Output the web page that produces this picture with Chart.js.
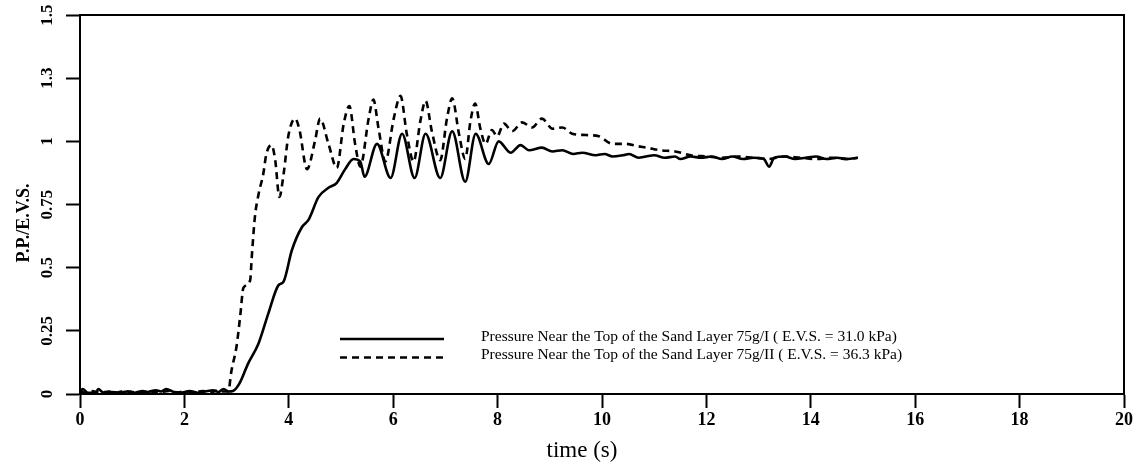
<!DOCTYPE html>
<html>
<head>
<meta charset="utf-8">
<title>Pore pressure ratio, sand layer 75g</title>
<script src="https://cdn.jsdelivr.net/npm/chart.js@4/dist/chart.umd.min.js"></script>
<style>
  html, body { margin: 0; padding: 0; background: #fff; }
  #wrap { width: 1139px; height: 468px; }
</style>
</head>
<body>
<div id="wrap"><canvas id="ppChart" width="1139" height="468"></canvas></div>
<script>
// Series 75g/I (E.V.S. = 31.0 kPa): time (s) and P.P./E.V.S.
const timeI = [0, 0.05, 0.15, 0.3, 0.35, 0.45, 0.6, 0.75, 0.9, 1.05, 1.2, 1.3, 1.45, 1.55, 1.65, 1.8, 1.95, 2.1, 2.25, 2.4, 2.55, 2.65, 2.75, 2.85, 2.93,
  3.05, 3.22, 3.42, 3.61, 3.8, 3.9, 4.06, 4.25, 4.38, 4.57, 4.76, 4.92, 5.08, 5.24, 5.37, 5.45,
  5.69, 5.95, 6.17, 6.41, 6.62, 6.9, 7.13, 7.38, 7.58, 7.83, 8.02, 8.25, 8.44, 8.6, 8.85,
  9.05, 9.24, 9.45, 9.62, 9.88, 10.05, 10.2, 10.4, 10.52, 10.7, 10.84, 11.0, 11.2, 11.4, 11.5, 11.7, 11.9,
  12.1, 12.3, 12.5, 12.7, 12.9, 13.1, 13.2, 13.3, 13.5, 13.7, 13.9, 14.1, 14.3, 14.5, 14.7, 14.9];
const ppI = [0.005, 0.02, 0.005, 0.005, 0.02, 0.005, 0.008, 0.005, 0.01, 0.005, 0.012, 0.008, 0.015, 0.01, 0.02, 0.008, 0.006, 0.012, 0.005, 0.01, 0.015, 0.008, 0.02, 0.01, 0.012,
  0.04, 0.12, 0.2, 0.32, 0.43, 0.445, 0.57, 0.66, 0.69, 0.78, 0.816, 0.836, 0.89, 0.93, 0.92, 0.86,
  0.99, 0.855, 1.03, 0.855, 1.03, 0.855, 1.04, 0.84, 1.03, 0.91, 1.0, 0.955, 0.985, 0.965, 0.975,
  0.96, 0.965, 0.95, 0.955, 0.945, 0.95, 0.94, 0.945, 0.95, 0.935, 0.94, 0.945, 0.935, 0.94, 0.93, 0.94, 0.935,
  0.94, 0.93, 0.94, 0.93, 0.935, 0.93, 0.9, 0.935, 0.94, 0.93, 0.935, 0.94, 0.93, 0.935, 0.93, 0.935];

// Series 75g/II (E.V.S. = 36.3 kPa)
const timeII = [0, 0.1, 0.2, 0.4, 0.55, 0.7, 0.85, 1.0, 1.15, 1.35, 1.5, 1.7, 1.85, 2.0, 2.2, 2.35, 2.5, 2.65, 2.75, 2.84,
  2.9, 3.0, 3.07, 3.13, 3.26, 3.29, 3.35, 3.42, 3.51, 3.57, 3.67, 3.74, 3.82, 3.9, 3.99, 4.12, 4.2,
  4.35, 4.5, 4.6, 4.76, 4.92, 5.05, 5.16, 5.27, 5.37, 5.53, 5.62, 5.72, 5.85, 6.01, 6.14, 6.26, 6.39,
  6.52, 6.62, 6.74, 6.9, 7.03, 7.13, 7.26, 7.38, 7.48, 7.57, 7.67, 7.77, 7.89, 7.99, 8.12, 8.28, 8.47,
  8.66, 8.85, 9.05, 9.24, 9.43, 9.69, 9.94, 10.2, 10.45, 10.7, 10.86, 11.1, 11.4, 11.7, 12.0,
  12.3, 12.6, 12.9, 13.2, 13.5, 13.8, 14.1, 14.4, 14.7, 14.9];
const ppII = [0.01, 0.005, 0.012, 0.006, 0.01, 0.005, 0.012, 0.008, 0.005, 0.01, 0.006, 0.012, 0.005, 0.01, 0.008, 0.012, 0.006, 0.015, 0.01, 0.01,
  0.09, 0.19, 0.31, 0.42, 0.45, 0.54, 0.7, 0.79, 0.87, 0.95, 0.985, 0.925, 0.78, 0.87, 1.02, 1.09, 1.05,
  0.89, 1.0, 1.09, 0.99, 0.895, 1.067, 1.14, 0.99, 0.9, 1.09, 1.165, 1.05, 0.92, 1.09, 1.18, 1.03, 0.92,
  1.08, 1.16, 1.04, 0.925, 1.09, 1.17, 1.03, 0.93, 1.08, 1.15, 1.05, 0.99, 1.045, 1.02, 1.07, 1.04, 1.075,
  1.055, 1.09, 1.05, 1.055, 1.03, 1.025, 1.02, 0.99, 0.99, 0.98, 0.975, 0.965, 0.96, 0.945, 0.94,
  0.935, 0.94, 0.935, 0.93, 0.94, 0.935, 0.93, 0.935, 0.93, 0.935];

// Axis ticks
const xTicks = [0, 2, 4, 6, 8, 10, 12, 14, 16, 18, 20];
const yTicks = [0, 0.25, 0.5, 0.75, 1, 1.25, 1.5];
const yTickLabels = ['0', '0.25', '0.5', '0.75', '1', '1.3', '1.5'];

const xTitle = 'time (s)';
const yTitle = 'P.P./E.V.S.';
const legendLabels = [
  'Pressure Near the Top of the Sand Layer 75g/I ( E.V.S. = 31.0 kPa)',
  'Pressure Near the Top of the Sand Layer 75g/II ( E.V.S. = 36.3 kPa)'
];

function toPoints(xs, ys) {
  return xs.map(function(x, i) { return { x: x, y: ys[i] }; });
}

// Frame, axis titles, rotated y tick labels and the in-plot legend
const framePlugin = {
  id: 'frame',
  afterDraw: function(chart) {
    const ctx = chart.ctx;
    const area = chart.chartArea;
    const yScale = chart.scales.y;
    ctx.save();
    ctx.strokeStyle = '#000';
    ctx.fillStyle = '#000';
    ctx.lineWidth = 2;
    ctx.strokeRect(area.left, area.top, area.right - area.left, area.bottom - area.top);

    // y tick labels, reading bottom to top
    ctx.font = 'bold 17px "Liberation Serif"';
    ctx.textAlign = 'center';
    ctx.textBaseline = 'middle';
    yTicks.forEach(function(v, i) {
      const py = yScale.getPixelForValue(v);
      ctx.save();
      ctx.translate(48, py);
      ctx.rotate(-Math.PI / 2);
      ctx.fillText(yTickLabels[i], 0, 0);
      ctx.restore();
    });

    // axis titles
    ctx.save();
    ctx.font = 'bold 18px "Liberation Serif"';
    ctx.translate(24, 223);
    ctx.rotate(-Math.PI / 2);
    ctx.fillText(yTitle, 0, 0);
    ctx.restore();
    ctx.font = '23px "Liberation Serif"';
    ctx.fillText(xTitle, 582, 451);

    // legend rows
    const rows = [{ y: 339, dash: [] }, { y: 357.5, dash: [7, 5] }];
    ctx.font = '15.5px "Liberation Serif"';
    ctx.textAlign = 'left';
    rows.forEach(function(r, i) {
      ctx.setLineDash(r.dash);
      ctx.lineWidth = 2.5;
      ctx.beginPath();
      ctx.moveTo(340, r.y);
      ctx.lineTo(444, r.y);
      ctx.stroke();
      ctx.setLineDash([]);
      ctx.fillText(legendLabels[i], 481, r.y - 2.5);
    });
    ctx.restore();
  }
};

document.addEventListener('DOMContentLoaded', function() {
  const ctx = document.getElementById('ppChart').getContext('2d');
  new Chart(ctx, {
    type: 'line',
    data: {
      datasets: [
        {
          label: legendLabels[0],
          data: toPoints(timeI, ppI),
          borderColor: '#000',
          borderWidth: 2.6,
          pointRadius: 0,
          cubicInterpolationMode: 'monotone',
          fill: false
        },
        {
          label: legendLabels[1],
          data: toPoints(timeII, ppII),
          borderColor: '#000',
          borderWidth: 2.6,
          borderDash: [7, 5],
          pointRadius: 0,
          cubicInterpolationMode: 'monotone',
          fill: false
        }
      ]
    },
    options: {
      responsive: false,
      animation: false,
      layout: { padding: { left: 0, right: 15, top: 15, bottom: 0 } },
      plugins: {
        legend: { display: false },
        tooltip: { enabled: false }
      },
      scales: {
        x: {
          type: 'linear',
          min: 0,
          max: 20,
          afterBuildTicks: function(axis) {
            axis.ticks = xTicks.map(function(v) { return { value: v }; });
          },
          afterFit: function(axis) { axis.height = 74; },
          grid: { drawOnChartArea: false, drawTicks: true, tickLength: 14, tickColor: '#000', tickWidth: 2 },
          border: { display: true, color: '#000', width: 2 },
          ticks: {
            color: '#000',
            padding: 2,
            maxRotation: 0,
            font: { family: 'Liberation Serif', size: 18, weight: 'bold' }
          }
        },
        y: {
          type: 'linear',
          min: 0,
          max: 1.5,
          afterBuildTicks: function(axis) {
            axis.ticks = yTicks.map(function(v) { return { value: v }; });
          },
          afterFit: function(axis) { axis.width = 80; },
          grid: { drawOnChartArea: false, drawTicks: true, tickLength: 14, tickColor: '#000', tickWidth: 2 },
          border: { display: true, color: '#000', width: 2 },
          ticks: { display: false }
        }
      }
    },
    plugins: [framePlugin]
  });
});
</script>
</body>
</html>
